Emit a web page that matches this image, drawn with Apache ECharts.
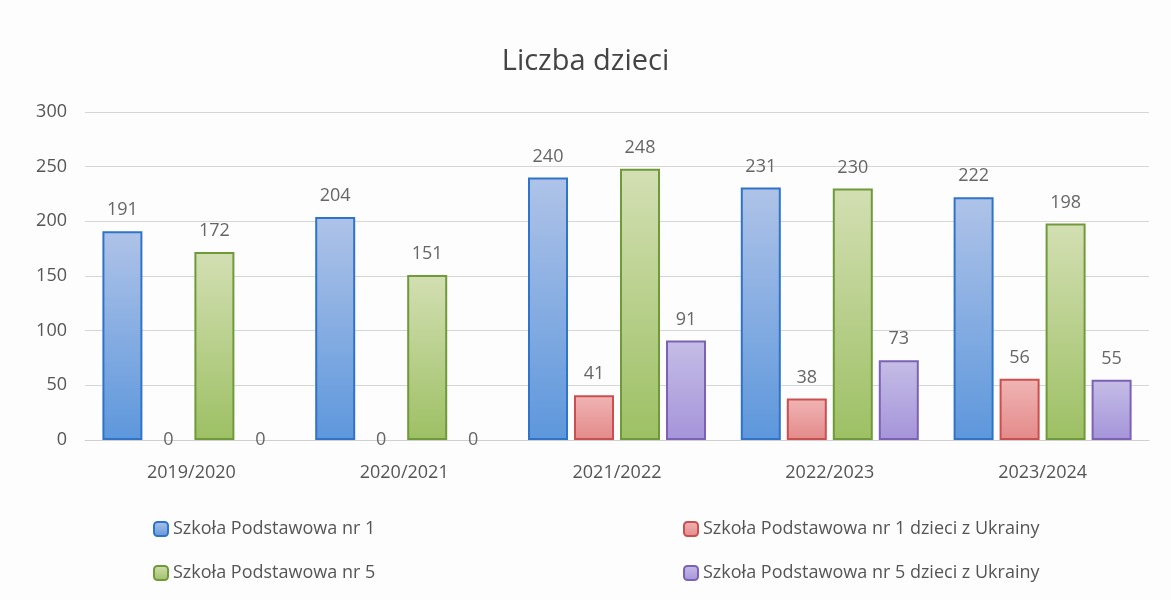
<!DOCTYPE html>
<html>
<head>
<meta charset="utf-8">
<script src="https://cdn.jsdelivr.net/npm/echarts@6/dist/echarts.min.js"></script>
<style>
  html, body { margin: 0; padding: 0; background: #fdfdfd; }
  #chart { width: 1171px; height: 600px; }
</style>
</head>
<body>
<div id="chart"></div>
<script>
// dane z wykresu
var years = ['2019/2020', '2020/2021', '2021/2022', '2022/2023', '2023/2024'];
var sp1 = [191, 204, 240, 231, 222];
var sp1Ukr = [0, 0, 41, 38, 56];
var sp5 = [172, 151, 248, 230, 198];
var sp5Ukr = [0, 0, 91, 73, 55];
var seriesNames = [
  'Szkoła Podstawowa nr 1',
  'Szkoła Podstawowa nr 1 dzieci z Ukrainy',
  'Szkoła Podstawowa nr 5',
  'Szkoła Podstawowa nr 5 dzieci z Ukrainy'
];

var font = 'Open Sans';

function grad(top, bottom) {
  return new echarts.graphic.LinearGradient(0, 0, 0, 1, [
    { offset: 0, color: top },
    { offset: 1, color: bottom }
  ]);
}

function barSeries(name, data, top, bottom, border) {
  // zero: bez obramowania, etykieta na linii bazowej
  var items = data.map(function (v) {
    if (v === 0) {
      return { value: v, itemStyle: { borderWidth: 0 }, label: { position: 'inside' } };
    }
    return v;
  });
  return {
    name: name,
    type: 'bar',
    data: items,
    barWidth: 40,
    barGap: '15%',
    itemStyle: { color: grad(top, bottom), borderColor: border, borderWidth: 2 },
    label: {
      show: true,
      position: 'top',
      distance: 12,
      color: '#666',
      fontFamily: font,
      fontSize: 18
    }
  };
}

var chart = echarts.init(document.getElementById('chart'));
chart.setOption({
  backgroundColor: '#fdfdfd',
  animation: false,
  title: {
    text: 'Liczba dzieci',
    left: 'center',
    top: 42,
    textStyle: { fontFamily: font, fontSize: 29, fontWeight: 'normal', color: '#444' }
  },
  grid: { left: 85, right: 22, top: 112, bottom: 160, containLabel: false },
  legend: [
    {
      data: [seriesNames[0], seriesNames[2]],
      orient: 'vertical',
      left: 148,
      top: 515,
      itemWidth: 14,
      itemHeight: 14,
      itemGap: 26,
      textStyle: { fontFamily: font, fontSize: 18, color: '#555' }
    },
    {
      data: [seriesNames[1], seriesNames[3]],
      orient: 'vertical',
      left: 678,
      top: 515,
      itemWidth: 14,
      itemHeight: 14,
      itemGap: 26,
      textStyle: { fontFamily: font, fontSize: 18, color: '#555' }
    }
  ],
  xAxis: {
    type: 'category',
    data: years,
    axisLine: { lineStyle: { color: '#d0d0d0' } },
    axisTick: { show: false },
    axisLabel: { fontFamily: font, fontSize: 18, color: '#555', margin: 24 }
  },
  yAxis: {
    type: 'value',
    min: 0,
    max: 300,
    interval: 50,
    axisLine: { show: false },
    axisTick: { show: false },
    axisLabel: { fontFamily: font, fontSize: 18, color: '#555', margin: 18 },
    splitLine: { lineStyle: { color: '#d6d6d6' } }
  },
  series: [
    barSeries(seriesNames[0], sp1, '#afc3e8', '#5d97dc', '#2f74c8'),
    barSeries(seriesNames[1], sp1Ukr, '#f0b4b4', '#e48a8a', '#c9504e'),
    barSeries(seriesNames[2], sp5, '#d3dfb3', '#9dc064', '#6f9a3a'),
    barSeries(seriesNames[3], sp5Ukr, '#c5bde6', '#a594da', '#7b62b4')
  ]
});
</script>
</body>
</html>
